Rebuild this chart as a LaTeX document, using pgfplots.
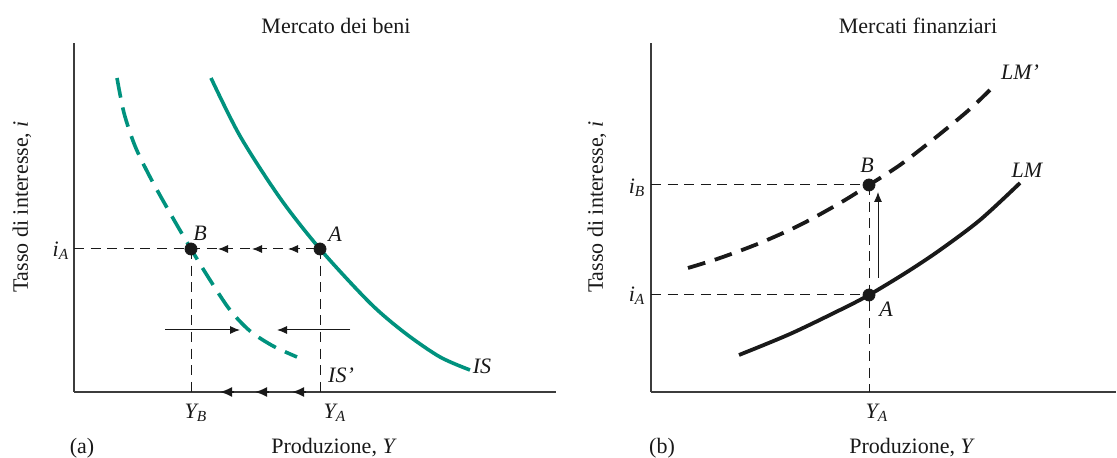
\documentclass[border=0pt]{standalone}
\usepackage{pgfplots}
\pgfplotsset{compat=1.18}
\usetikzlibrary{arrows.meta}
\usepackage{fontspec}
\setmainfont{Liberation Serif}
\definecolor{isgreen}{RGB}{0,146,126}
\definecolor{axgray}{RGB}{60,60,60}
\definecolor{ink}{RGB}{25,25,25}
\tikzset{
  guide/.style={line width=0.5pt, draw=ink, dash pattern=on 5pt off 3.3pt},
  tipL/.style={line width=0.5pt, draw=ink, fill=ink, -{Latex[length=5pt,width=4pt]}},
  lbl/.style={font=\fontsize{11}{13}\selectfont\itshape, text=ink},
  txt/.style={font=\fontsize{11}{13}\selectfont, text=ink},
}
\pgfplotsset{
  panel/.style={
    x=0.5pt, y=0.5pt,
    axis lines=left,
    axis line style={-, line width=0.75pt, draw=axgray},
    xtick=\empty, ytick=\empty,
    clip=false,
    ymin=66, ymax=415,
    anchor=south west,
  },
}
\begin{document}
\begin{tikzpicture}[font=\fontsize{11}{13}\selectfont]
\useasboundingbox (0,0) rectangle (558.5pt,229pt);
% ---------------- (a) Mercato dei beni
\begin{axis}[panel, at={(37pt,33pt)}, xmin=74, xmax=556]
\addplot[isgreen, line width=1.8pt, smooth] coordinates {(211,380)(240,322)(280,260)(320,209)(370,155)(405,125)(440,101)(470,88)};
\addplot[isgreen, line width=1.8pt, smooth, dash pattern=on 10pt off 5pt] coordinates {(117,380)(124,345)(135,312)(150,281)(170,245)(191,209)(210,178)(230,148)(250,127)(273,112)(297,101)};
\addplot[guide] coordinates {(74,209)(320,209)};
\addplot[guide] coordinates {(191,209)(191,66)};
\addplot[guide] coordinates {(320,209)(320,66)};
\addplot[tipL] coordinates {(230,209)(218,209)};
\addplot[tipL] coordinates {(264,209)(252,209)};
\addplot[tipL] coordinates {(300,209)(288,209)};
\addplot[tipL, line width=0.75pt, -{Latex[length=6pt,width=5pt]}] coordinates {(234,66)(220,66)};
\addplot[tipL, line width=0.75pt, -{Latex[length=6pt,width=5pt]}] coordinates {(269,66)(255,66)};
\addplot[tipL, line width=0.75pt, -{Latex[length=6pt,width=5pt]}] coordinates {(306,66)(292,66)};
\addplot[tipL] coordinates {(165,128)(240,128)};
\addplot[tipL] coordinates {(350,128)(277,128)};
\addplot[only marks, mark=*, mark size=3pt, ink] coordinates {(191,209)(320,209)};
\node[txt] at (336,432) {Mercato dei beni};
\node[txt, rotate=90] at (22,251) {Tasso di interesse, \textit{i}};
\node[txt] at (82,10) {(a)};
\node[txt] at (334,10) {Produzione, \textit{Y}};
\node[lbl] at (200,225) {B};
\node[lbl] at (335,224) {A};
\node[lbl] at (61,207) {i\textsubscript{A}};
\node[lbl] at (196,45) {Y\textsubscript{B}};
\node[lbl] at (335,45) {Y\textsubscript{A}};
\node[lbl] at (482,92) {IS};
\node[lbl] at (341,83) {IS’};
\end{axis}
% ---------------- (b) Mercati finanziari
\begin{axis}[panel, at={(325.5pt,33pt)}, xmin=651, xmax=1116]
\addplot[ink, line width=1.9pt, smooth] coordinates {(739,103)(790,124)(840,148)(869,163)(907,186)(940,208)(980,238)(1020,275)};
\addplot[ink, line width=1.9pt, smooth, dash pattern=on 9pt off 5pt] coordinates {(688,190)(720,200)(760,215)(800,233)(840,255)(869,273)(900,293)(935,320)(970,349)(997,375)};
\addplot[guide] coordinates {(651,273)(869,273)};
\addplot[guide] coordinates {(651,163)(869,163)};
\addplot[guide] coordinates {(869,273)(869,66)};
\addplot[tipL] coordinates {(878,180)(878,266)};
\addplot[only marks, mark=*, mark size=3pt, ink] coordinates {(869,273)(869,163)};
\node[txt] at (918,432) {Mercati finanziari};
\node[txt, rotate=90] at (597,251) {Tasso di interesse, \textit{i}};
\node[txt] at (662,10) {(b)};
\node[txt] at (912,10) {Produzione, \textit{Y}};
\node[lbl] at (867,293) {B};
\node[lbl] at (886,149) {A};
\node[lbl] at (1020,386) {LM’};
\node[lbl] at (1027,288) {LM};
\node[lbl] at (637,270) {i\textsubscript{B}};
\node[lbl] at (637,162) {i\textsubscript{A}};
\node[lbl] at (877,45) {Y\textsubscript{A}};
\end{axis}
\end{tikzpicture}
\end{document}
